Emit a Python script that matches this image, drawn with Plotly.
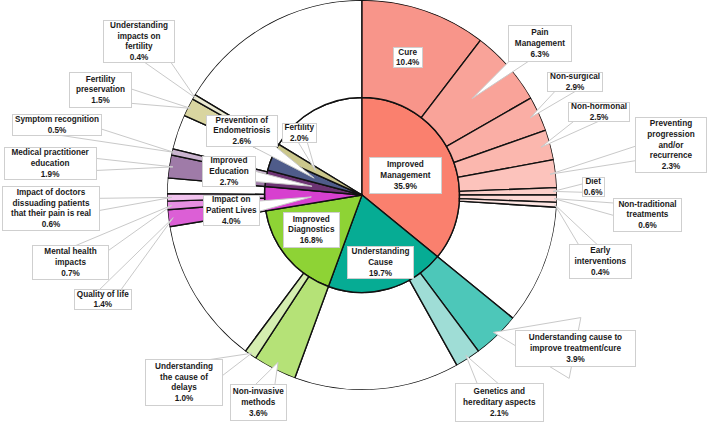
import math
import plotly.graph_objects as go

W, H = 709, 423
CX, CY, R = 362.0, 195.0, 195.0   # pie centre and outer radius in px (layout)
UNIT = R / 2.0                     # radial axis runs 0..2

# ---------------- data ----------------
parent_names = ["Improved Management", "Understanding Cause", "Improved Diagnostics",
                "Impact on Patient Lives", "Improved Education",
                "Prevention of Endometriosis", "Fertility"]
parent_values = [35.9, 19.7, 16.8, 4.0, 2.7, 2.6, 2.0]
parent_colors = ["#FA806E", "#06AC94", "#8ED335", "#D740CF", "#6D3473", "#4F5C8A", "#CBC78C"]

child_names = ["Cure", "Pain Management", "Non-surgical", "Non-hormonal",
               "Preventing progression and/or recurrence", "Diet",
               "Non-traditional treatments", "Early interventions",
               "Understanding cause to improve treatment/cure", "Genetics and hereditary aspects",
               "Non-invasive methods", "Understanding the cause of delays",
               "Quality of life", "Mental health impacts",
               "Impact of doctors dissuading patients that their pain is real",
               "Medical practitioner education", "Symptom recognition",
               "Fertility preservation", "Understanding impacts on fertility"]
child_parents = ["Improved Management"] * 8 + ["Understanding Cause"] * 2 + \
                ["Improved Diagnostics"] * 2 + ["Impact on Patient Lives"] * 3 + \
                ["Improved Education"] * 2 + ["Fertility"] * 2
child_values = [10.4, 6.3, 2.9, 2.5, 2.3, 0.6, 0.6, 0.4,
                3.9, 2.1,
                3.6, 1.0,
                1.4, 0.7, 0.6,
                1.9, 0.5,
                1.5, 0.4]
child_colors = ["#F8958A", "#F9A399", "#FAAEA5", "#FBB7AE", "#FCC3BC", "#FCCFC9", "#FDD9D5", "#FEE6E3",
                "#4DC7B9", "#9FDDD6",
                "#B5E277", "#D5EEB0",
                "#DC5FD6", "#E78FE2", "#F2C3EF",
                "#9F7BA8", "#CBB5D0",
                "#D9D5A0", "#ECEBD2"]

# ---------------- geometry from data ----------------
inner_theta, inner_width, inner_col = [], [], []
segments = []   # (start%, end%, colour or None)
mid_angle = {}
start = 0.0
for pname, pval, pcol in zip(parent_names, parent_values, parent_colors):
    inner_theta.append((start + pval / 2) * 3.6)
    inner_width.append(pval * 3.6)
    inner_col.append(pcol)
    mid_angle[pname] = (start + pval / 2) * 3.6
    cs = start
    for cname, cpar, cval, ccol in zip(child_names, child_parents, child_values, child_colors):
        if cpar == pname:
            segments.append((cs, cs + cval, ccol))
            mid_angle[cname] = (cs + cval / 2) * 3.6
            cs += cval
    if cs < start + pval - 1e-9:
        segments.append((cs, start + pval, None))
    start += pval
rem_start = start
segments.append((rem_start, 100.0, None))

# merge adjacent blank segments
merged = []
for s in segments:
    if merged and s[2] is None and merged[-1][2] is None:
        merged[-1] = (merged[-1][0], s[1], None)
    else:
        merged.append(s)

out_col = [s for s in merged if s[2] is not None]
out_blank = [s for s in merged if s[2] is None]

line = dict(color="#111111", width=1.4)
fig = go.Figure()
# inner blank remainder
fig.add_trace(go.Barpolar(
    r=[1], base=[0], theta=[(rem_start + (100 - rem_start) / 2) * 3.6],
    width=[(100 - rem_start) * 3.6],
    marker=dict(color="white", line=line), hoverinfo="skip", showlegend=False))
# outer blanks
fig.add_trace(go.Barpolar(
    r=[1] * len(out_blank), base=[1] * len(out_blank),
    theta=[(a + b) / 2 * 3.6 for a, b, _ in out_blank],
    width=[(b - a) * 3.6 for a, b, _ in out_blank],
    marker=dict(color="white", line=line), hoverinfo="skip", showlegend=False))
# inner parents
fig.add_trace(go.Barpolar(
    r=[1] * len(inner_theta), base=[0] * len(inner_theta),
    theta=inner_theta, width=inner_width,
    marker=dict(color=inner_col, line=line), hoverinfo="skip", showlegend=False))
# outer children
fig.add_trace(go.Barpolar(
    r=[1] * len(out_col), base=[1] * len(out_col),
    theta=[(a + b) / 2 * 3.6 for a, b, _ in out_col],
    width=[(b - a) * 3.6 for a, b, _ in out_col],
    marker=dict(color=[c for _, _, c in out_col], line=line),
    hoverinfo="skip", showlegend=False))

# ---------------- labels (layout) ----------------
display = {
    "Cure": "Cure", "Improved Management": "Improved<br>Management",
    "Understanding Cause": "Understanding<br>Cause", "Improved Diagnostics": "Improved<br>Diagnostics",
    "Impact on Patient Lives": "Impact on<br>Patient Lives", "Improved Education": "Improved<br>Education",
    "Prevention of Endometriosis": "Prevention of<br>Endometriosis", "Fertility": "Fertility",
    "Pain Management": "Pain<br>Management", "Non-surgical": "Non-surgical",
    "Non-hormonal": "Non-hormonal",
    "Preventing progression and/or recurrence": "Preventing<br>progression<br>and/or<br>recurrence",
    "Diet": "Diet", "Non-traditional treatments": "Non-traditional<br>treatments",
    "Early interventions": "Early<br>interventions",
    "Understanding cause to improve treatment/cure": "Understanding cause to<br>improve treatment/cure",
    "Genetics and hereditary aspects": "Genetics and<br>hereditary aspects",
    "Non-invasive methods": "Non-invasive<br>methods",
    "Understanding the cause of delays": "Understanding<br>the cause of<br>delays",
    "Quality of life": "Quality of life", "Mental health impacts": "Mental health<br>impacts",
    "Impact of doctors dissuading patients that their pain is real":
        "Impact of doctors<br>dissuading patients<br>that their pain is real",
    "Medical practitioner education": "Medical practitioner<br>education",
    "Symptom recognition": "Symptom recognition",
    "Fertility preservation": "Fertility<br>preservation",
    "Understanding impacts on fertility": "Understanding<br>impacts on<br>fertility",
}
# name: (box cx, cy, w, h, tip radius or None, tail half width)
placement = {
    "Cure": (408, 58, 30, 21, None, 0),
    "Improved Management": (405, 175, 73, 37, None, 0),
    "Understanding Cause": (380, 262, 67, 33, None, 0),
    "Improved Diagnostics": (311, 230, 57, 36, None, 0),
    "Impact on Patient Lives": (231, 211, 57, 31, 0.52, 5),
    "Improved Education": (229, 172, 54, 31, 0.52, 5),
    "Prevention of Endometriosis": (242, 131, 72, 32, 0.52, 6),
    "Fertility": (299, 133, 35, 20, 0.54, 4),
    "Pain Management": (540, 43, 64, 37, 1.5, 6),
    "Non-surgical": (575, 82, 56, 20, 1.9, 6),
    "Non-hormonal": (599, 112, 62, 20, 1.9, 6),
    "Preventing progression and/or recurrence": (671, 145, 72, 56, 1.94, 7),
    "Diet": (593, 187, 23, 20, 1.96, 4),
    "Non-traditional treatments": (647, 215, 69, 34, 1.97, 6),
    "Early interventions": (600, 261, 63, 35, 1.98, 7),
    "Understanding cause to improve treatment/cure": (575, 348, 121, 37, 1.95, 8),
    "Genetics and hereditary aspects": (499, 402, 89, 39, 1.96, 8),
    "Non-invasive methods": (258, 402, 57, 37, 1.92, 8),
    "Understanding the cause of delays": (184, 382, 78, 47, 1.98, 8),
    "Quality of life": (103, 299, 58, 21, 1.95, 8),
    "Mental health impacts": (70, 262, 77, 35, 1.95, 9),
    "Impact of doctors dissuading patients that their pain is real": (51, 209, 98, 45, 1.95, 6),
    "Medical practitioner education": (50, 163, 93, 33, 1.96, 6),
    "Symptom recognition": (57, 125, 90, 22, 1.98, 6),
    "Fertility preservation": (100, 90, 63, 36, 1.97, 7),
    "Understanding impacts on fertility": (139, 41, 72, 43, 1.98, 9),
}
value_of = dict(zip(parent_names, parent_values))
value_of.update(dict(zip(child_names, child_values)))


def px2paper(x, y):
    return x / W, 1 - y / H


shapes, annotations = [], []
for name, (bx, by, bw, bh, tr, hw) in placement.items():
    if tr is not None:
        ang = math.radians(mid_angle[name])
        tx = CX + tr * UNIT * math.sin(ang)
        ty = CY - tr * UNIT * math.cos(ang)
        dx, dy = tx - bx, ty - by
        L = math.hypot(dx, dy)
        te = min((bw / 2) / abs(dx) if dx else 1e9, (bh / 2) / abs(dy) if dy else 1e9)
        te = min(te, 0.95)
        wc = hw / (1 - te)
        px_, py_ = -dy / L, dx / L
        p1 = (bx + px_ * wc, by + py_ * wc)
        p2 = (bx - px_ * wc, by - py_ * wc)
        pts = [px2paper(*p1), px2paper(tx, ty), px2paper(*p2)]
        path = "M {:.5f},{:.5f} L {:.5f},{:.5f} L {:.5f},{:.5f} Z".format(
            pts[0][0], pts[0][1], pts[1][0], pts[1][1], pts[2][0], pts[2][1])
        shapes.append(dict(type="path", path=path, xref="paper", yref="paper",
                           fillcolor="white", line=dict(color="#c9c9c9", width=1), layer="above"))
    ax, ay = px2paper(bx, by)
    annotations.append(dict(
        x=ax, y=ay, xref="paper", yref="paper", xanchor="center", yanchor="middle",
        text="<b>{}<br>{:.1f}%</b>".format(display[name], value_of[name]),
        showarrow=False, align="center", width=bw - 2, height=bh - 2, valign="middle",
        bgcolor="white", bordercolor="#cfcfcf", borderwidth=1, borderpad=0,
        font=dict(family="Liberation Sans, Arial, sans-serif", size=8.2, color="#1a1a1a")))

fig.update_layout(
    width=W, height=H, margin=dict(l=0, r=0, t=0, b=0),
    paper_bgcolor="white", plot_bgcolor="white", showlegend=False,
    polar=dict(
        domain=dict(x=[(CX - R) / W, (CX + R) / W], y=[1 - (CY + R) / H, 1 - (CY - R) / H]),
        bgcolor="white",
        radialaxis=dict(visible=False, range=[0, 2]),
        angularaxis=dict(visible=False, direction="clockwise", rotation=90),
    ),
    shapes=shapes, annotations=annotations,
)
fig.write_html("out.html", config={"displayModeBar": False},
               post_script="document.body.style.margin='0';document.body.style.overflow='hidden';")
